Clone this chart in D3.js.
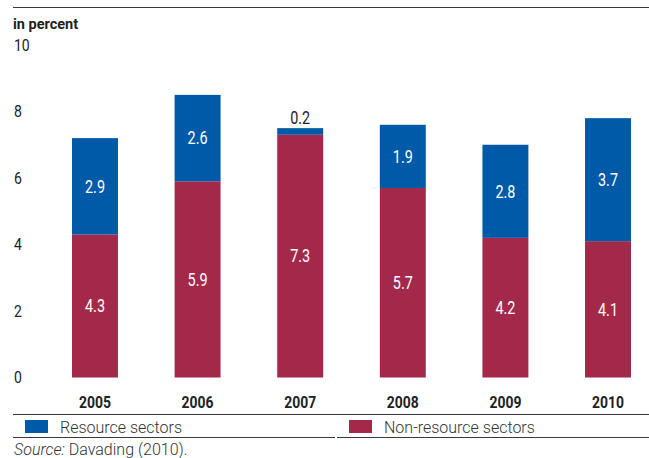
<!DOCTYPE html>
<meta charset="utf-8">
<style>
	body {
		margin: 0;
		background: #fff;
	}
	svg text {
		font-family: Roboto, "Liberation Sans", sans-serif;
	}
</style>
<body>
<script src="https://d3js.org/d3.v7.min.js"></script>
<script>
	var years = ["2005", "2006", "2007", "2008", "2009", "2010"];
	var nonResource = [4.3, 5.9, 7.3, 5.7, 4.2, 4.1];
	var resource = [2.9, 2.6, 0.2, 1.9, 2.8, 3.7];
	var yTicks = [0, 2, 4, 6, 8, 10];

	var blue = "#005aa8",
		red = "#a3294b",
		ink = "#222";

	var width = 649,
		height = 458;

	// narrow the glyphs a bit, the original uses a condensed face
	var squeeze = 0.8;

	var svg = d3.select("body").append("svg")
		.attr("width", width)
		.attr("height", height);

	var x = d3.scaleBand()
		.domain(years)
		.range([72, 631])
		.paddingInner(0.552)
		.paddingOuter(0);

	var y = d3.scaleLinear()
		.domain([0, 10])
		.range([377.5, 45]);

	function rule(x1, x2, yy) {
		svg.append("line")
			.attr("x1", x1).attr("x2", x2)
			.attr("y1", yy).attr("y2", yy)
			.attr("stroke", "#3a3a3a")
			.attr("stroke-width", 1.2);
	}
	rule(13, 649, 7.5);
	rule(13, 649, 414.5);
	rule(13, 335, 437.5);
	rule(337, 649, 437.5);

	svg.append("text")
		.attr("x", 13)
		.attr("y", 29)
		.attr("font-size", 14.5)
		.attr("font-weight", "bold")
		.attr("fill", ink)
		.text("in percent");

	// y axis labels
	svg.selectAll(".ytick")
		.data(yTicks)
		.enter().append("text")
		.attr("class", "ytick")
		.attr("transform", function(d) { return "translate(14," + y(d) + ") scale(0.85,1)"; })
		.attr("dy", "0.35em")
		.attr("font-size", 16.5)
		.attr("fill", ink)
		.text(function(d) { return d; });

	// bars
	var bars = svg.selectAll(".bar")
		.data(years)
		.enter().append("g")
		.attr("class", "bar");

	bars.append("rect")
		.attr("x", function(d) { return x(d); })
		.attr("width", x.bandwidth())
		.attr("y", function(d, i) { return y(nonResource[i]); })
		.attr("height", function(d, i) { return y(0) - y(nonResource[i]); })
		.attr("fill", red);

	bars.append("rect")
		.attr("x", function(d) { return x(d); })
		.attr("width", x.bandwidth())
		.attr("y", function(d, i) { return y(nonResource[i] + resource[i]); })
		.attr("height", function(d, i) { return y(nonResource[i]) - y(nonResource[i] + resource[i]); })
		.attr("fill", blue);

	bars.append("text")
		.attr("transform", function(d, i) {
			return "translate(" + (x(d) + x.bandwidth() / 2) + "," + y(nonResource[i] / 2) + ") scale(" + squeeze + ",1)";
		})
		.attr("dy", "0.35em")
		.attr("text-anchor", "middle")
		.attr("font-size", 18)
		.attr("fill", "#fff")
		.text(function(d, i) { return nonResource[i].toFixed(1); });

	bars.append("text")
		.attr("transform", function(d, i) {
			var yy = resource[i] < 1
				? y(nonResource[i] + resource[i]) - 10
				: y(nonResource[i] + resource[i] / 2);
			return "translate(" + (x(d) + x.bandwidth() / 2) + "," + yy + ") scale(" + squeeze + ",1)";
		})
		.attr("dy", "0.35em")
		.attr("text-anchor", "middle")
		.attr("font-size", 18)
		.attr("fill", function(d, i) { return resource[i] < 1 ? ink : "#fff"; })
		.text(function(d, i) { return resource[i].toFixed(1); });

	// x labels
	svg.selectAll(".xlab")
		.data(years)
		.enter().append("text")
		.attr("class", "xlab")
		.attr("transform", function(d) {
			return "translate(" + (x(d) + x.bandwidth() / 2) + ",408) scale(0.82,1)";
		})
		.attr("text-anchor", "middle")
		.attr("font-size", 17)
		.attr("font-weight", "bold")
		.attr("fill", ink)
		.text(function(d) { return d; });

	// legend
	var legend = [
		{ label: "Resource sectors", color: blue, x: 25 },
		{ label: "Non-resource sectors", color: red, x: 349 }
	];
	var lg = svg.selectAll(".legend")
		.data(legend)
		.enter().append("g")
		.attr("class", "legend")
		.attr("transform", function(d) { return "translate(" + d.x + ",0)"; });
	lg.append("rect")
		.attr("y", 420)
		.attr("width", 23)
		.attr("height", 13)
		.attr("fill", function(d) { return d.color; });
	lg.append("text")
		.attr("x", 35)
		.attr("y", 433)
		.attr("font-size", 16)
		.attr("font-weight", 300)
		.attr("fill", "#333")
		.text(function(d) { return d.label; });

	var src = svg.append("text")
		.attr("x", 14)
		.attr("y", 455)
		.attr("font-size", 16)
		.attr("font-weight", 300)
		.attr("fill", "#333");
	src.append("tspan").attr("font-style", "italic").text("Source:");
	src.append("tspan").text(" Davading (2010).");
</script>
